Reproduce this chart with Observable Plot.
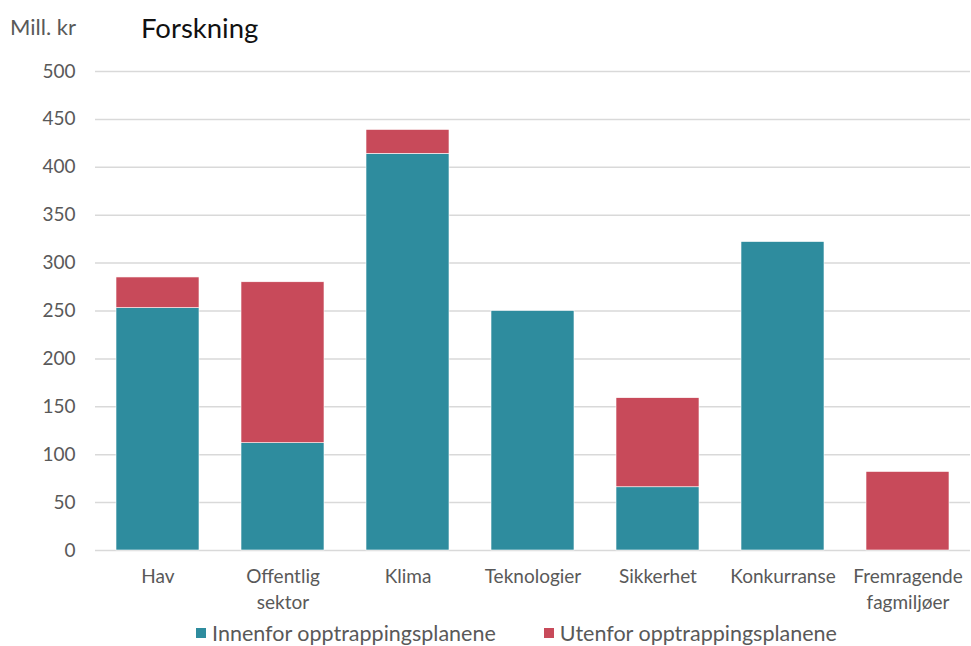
<!DOCTYPE html>
<html>
<head>
<meta charset="utf-8">
<script src="https://cdn.jsdelivr.net/npm/d3@7"></script>
<script src="https://cdn.jsdelivr.net/npm/@observablehq/plot@0.6"></script>
<style>
  body { margin: 0; background: #fff; font-family: Lato, "Open Sans", sans-serif; }
  #wrap { position: relative; width: 971px; }
  #header { position: relative; height: 50px; }
  #unit { position: absolute; left: 10px; top: 13px; font-size: 22px; color: #595959; }
  #title { position: absolute; left: 141px; top: 11px; font-size: 27.5px; color: #111; }
  #legend { display: flex; justify-content: center; gap: 48px; font-size: 21.5px; color: #595959; padding-left: 62px; height: 26px; align-items: center; }
  .item { display: flex; align-items: center; gap: 6px; }
  .sw { width: 10px; height: 10px; display: inline-block; }
</style>
</head>
<body>
<div id="wrap">
  <div id="header"><div id="unit">Mill. kr</div><div id="title">Forskning</div></div>
  <div id="chart"></div>
  <div id="legend"></div>
</div>
<script>
const categories = ["Hav", "Offentlig sektor", "Klima", "Teknologier", "Sikkerhet", "Konkurranse", "Fremragende fagmiljøer"];
const categoryLabels = ["Hav", "Offentlig\nsektor", "Klima", "Teknologier", "Sikkerhet", "Konkurranse", "Fremragende\nfagmiljøer"];
const seriesNames = ["Innenfor opptrappingsplanene", "Utenfor opptrappingsplanene"];
const innenfor = [253, 112, 414, 250, 66, 322, 0];
const utenfor = [32, 168, 25, 0, 93, 0, 82];
const yTicks = [0, 50, 100, 150, 200, 250, 300, 350, 400, 450, 500];
const colors = ["#2E8C9E", "#C84A5A"];

const data = [];
categories.forEach((c, i) => {
  data.push({cat: c, series: seriesNames[0], value: innenfor[i]});
  data.push({cat: c, series: seriesNames[1], value: utenfor[i]});
});
const labelOf = new Map(categories.map((c, i) => [c, categoryLabels[i]]));

const chart = Plot.plot({
  width: 971,
  height: 570,
  marginLeft: 95,
  marginRight: 1,
  marginTop: 21,
  marginBottom: 70,
  style: {fontFamily: "Lato, 'Open Sans', sans-serif", fontSize: "19px", color: "#595959", background: "#fff"},
  x: {domain: categories, paddingInner: 0.336, paddingOuter: 0.168, label: null},
  y: {domain: [0, 500], label: null},
  color: {domain: seriesNames, range: colors},
  marks: [
    Plot.gridY(yTicks, {stroke: "#d9d9d9", strokeOpacity: 1, strokeWidth: 1.5}),
    Plot.barY(data, {x: "cat", y: "value", fill: "series", stroke: "white", strokeWidth: 0.6, order: seriesNames}),
    Plot.axisY(yTicks, {tickSize: 0, tickPadding: 20, fontSize: 19, fill: "#595959", label: null}),
    Plot.axisX({tickSize: 0, tickPadding: 15, fontSize: 19, fill: "#595959", lineHeight: 1.33, tickFormat: d => labelOf.get(d), label: null})
  ]
});
document.getElementById("chart").appendChild(chart);

const legend = document.getElementById("legend");
seriesNames.forEach((s, i) => {
  const it = document.createElement("div");
  it.className = "item";
  const sw = document.createElement("span");
  sw.className = "sw";
  sw.style.background = colors[i];
  it.appendChild(sw);
  it.appendChild(document.createTextNode(s));
  legend.appendChild(it);
});
</script>
</body>
</html>
